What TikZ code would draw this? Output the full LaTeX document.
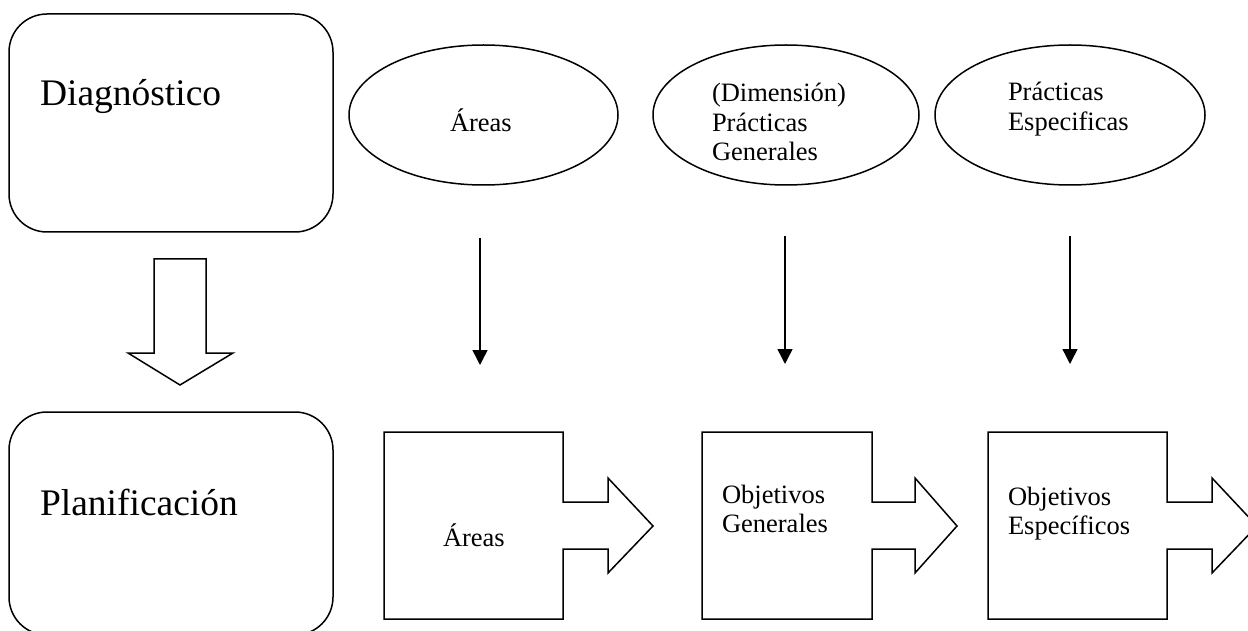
\documentclass[tikz,border=0pt]{standalone}
\usepackage{fontspec}
\setmainfont{Liberation Serif}
\usetikzlibrary{arrows.meta,shapes.geometric}
\tikzset{
  line/.style={line width=1.5pt, line join=miter},
  rbox/.style={draw, line width=1.5pt, rounded corners=38pt, minimum width=324pt, inner sep=0pt, outer sep=0pt},
  oval/.style={draw, ellipse, line width=1.5pt, inner sep=0pt, outer sep=0pt},
  bigtxt/.style={anchor=base west, inner sep=0pt, outer sep=0pt, font=\fontsize{37.5}{42}\selectfont},
  smalltxt/.style={anchor=base west, inner sep=0pt, outer sep=0pt, font=\fontsize{26.5}{29.5}\selectfont},
  down/.style={line width=1.5pt, -{Triangle[width=15pt,length=15pt]}},
}
\newcommand{\lines}[1]{\begin{tabular}[t]{@{}l@{}}#1\end{tabular}}
\begin{document}
\begin{tikzpicture}[x=1pt,y=-1pt]
\useasboundingbox (0,0) rectangle (1248,631);
\clip (0,0) rectangle (1248,631);
% left rounded boxes
\node[rbox, minimum height=218pt] (diag) at (171,123) {};
\node[rbox, minimum height=223pt] (plan) at (171,523.5) {};
\node[bigtxt] (diagt) at (40,106) {Diagnóstico};
\node[bigtxt] (plant) at (40,515) {Planificación};
% block arrow down
\draw[line] (154,259) -- (206,259) -- (206,353) -- (233,353) -- (180,385) -- (128,353) -- (154,353) -- cycle;
% ellipses
\node[oval, minimum width=269pt, minimum height=140pt] (e1) at (483.5,115) {};
\node[oval, minimum width=266pt, minimum height=140pt] (e2) at (786,115) {};
\node[oval, minimum width=270pt, minimum height=140pt] (e3) at (1070,115) {};
\node[smalltxt] (e1t) at (450,132) {Áreas};
\node[smalltxt] (e2t) at (712,102) {\lines{(Dimensión)\\Prácticas\\Generales}};
\node[smalltxt] (e3t) at (1008,101) {\lines{Prácticas\\Especificas}};
% vertical arrows
\coordinate (a1s) at (480,238); \coordinate (a1e) at (480,365);
\coordinate (a2s) at (785,236); \coordinate (a2e) at (785,364);
\coordinate (a3s) at (1070,236); \coordinate (a3e) at (1070,364);
\draw[down] (a1s) -- (a1e);
\draw[down] (a2s) -- (a2e);
\draw[down] (a3s) -- (a3e);
% box arrows
\draw[line] (384,432) -- (563,432) -- (563,502) -- (608,502) -- (608,478) -- (653,526) -- (608,573) -- (608,549) -- (563,549) -- (563,619) -- (384,619) -- cycle;
\draw[line] (702,432) -- (872,432) -- (872,502) -- (915,502) -- (915,478) -- (957,526) -- (915,573) -- (915,549) -- (872,549) -- (872,619) -- (702,619) -- cycle;
\draw[line] (988,432) -- (1167,432) -- (1167,502) -- (1212,502) -- (1212,478) -- (1257,526) -- (1212,573) -- (1212,549) -- (1167,549) -- (1167,619) -- (988,619) -- cycle;
\node[smalltxt] (b1t) at (443,546) {Áreas};
\node[smalltxt] (b2t) at (722,503) {\lines{Objetivos\\Generales}};
\node[smalltxt] (b3t) at (1008,505) {\lines{Objetivos\\Específicos}};
\end{tikzpicture}
\end{document}
